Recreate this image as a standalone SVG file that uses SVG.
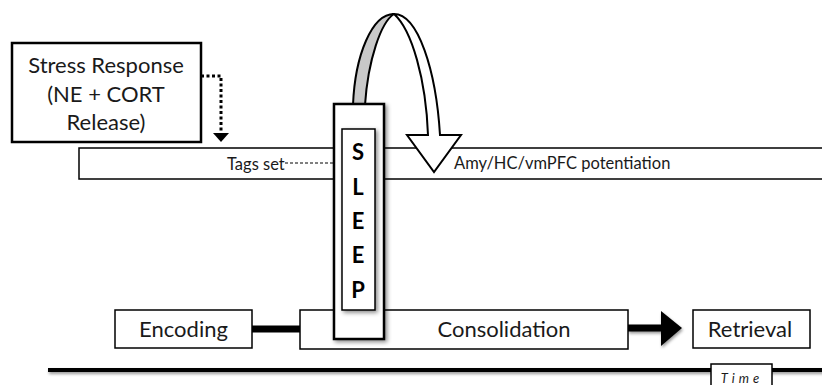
<svg xmlns="http://www.w3.org/2000/svg" width="822" height="385" viewBox="0 0 822 385">
<defs>
<style>
.box{fill:#fff;stroke:#000;stroke-width:1.5}
.bold{fill:#fff;stroke:#000;stroke-width:2.5}
.t{font-family:Lato,"Open Sans","Liberation Sans",sans-serif;fill:#1a1a1a}
.lbl{font-size:22px;text-anchor:middle}
.sm{font-size:16.5px}
.sl{font-family:Lato,"Open Sans","Liberation Sans",sans-serif;font-weight:bold;font-size:22px;text-anchor:middle;fill:#000}
</style>
<filter id="sh" x="-30%" y="-10%" width="160%" height="130%">
<feDropShadow dx="2" dy="2" stdDeviation="2" flood-color="#000" flood-opacity="0.45"/>
</filter>
<filter id="sh2" filterUnits="userSpaceOnUse" x="0" y="290" width="822" height="95">
<feDropShadow dx="1" dy="2" stdDeviation="1.5" flood-color="#000" flood-opacity="0.4"/>
</filter>
</defs>

<g id="tags-band">
<rect x="79" y="148" width="760" height="31" class="box"/>
<text x="227" y="170" class="t sm">Tags set</text>
<text x="454" y="169" class="t sm">Amy/HC/vmPFC potentiation</text>
</g>

<g id="time-axis">
<rect x="48" y="368" width="780" height="4" fill="#000" filter="url(#sh2)"/>
<rect x="711" y="364" width="61" height="30" fill="#fff" stroke="#000" stroke-width="1.5"/>
<text x="742" y="383" class="t" font-size="13" font-style="italic" letter-spacing="4" text-anchor="middle">Time</text>
</g>

<g id="connectors">
<polyline points="201,76 221,76 221,133" fill="none" stroke="#000" stroke-width="3" stroke-dasharray="3,2.5"/>
<polygon points="213,133 229,133 221,142" fill="#000"/>
<line x1="285" y1="163" x2="334" y2="163" stroke="#000" stroke-width="1" stroke-dasharray="3,2"/>
<line x1="252" y1="329" x2="301" y2="329" stroke="#000" stroke-width="7"/>
<g filter="url(#sh2)">
<line x1="628" y1="328" x2="662" y2="328" stroke="#000" stroke-width="7"/>
<polygon points="661,311 682,328 661,346" fill="#000"/>
</g>
</g>

<g id="stress-response">
<rect x="12" y="43" width="189" height="99" class="bold"/>
<text x="106" y="73" class="t lbl">Stress Response</text>
<text x="106" y="102" class="t lbl">(NE + CORT</text>
<text x="106" y="130" class="t lbl">Release)</text>
</g>

<g id="encoding">
<rect x="115" y="310" width="137" height="38" class="box"/>
<text x="183.5" y="337" class="t lbl">Encoding</text>
</g>

<g id="consolidation">
<rect x="300" y="310" width="328" height="39" class="box"/>
<text x="504" y="337" class="t lbl">Consolidation</text>
</g>

<g id="retrieval">
<rect x="693" y="310" width="117" height="38" class="box"/>
<text x="750" y="337" class="t lbl">Retrieval</text>
</g>

<g id="curved-arrow">
<path d="M353,105 C355,55 372,14 394,14 C381,22 368,60 365,105 Z" fill="#c8c8c8" stroke="#000" stroke-width="2" stroke-linejoin="round"/>
<path d="M394,14 C418,14 436,70 440,135 L461,135 L434,172 L407,135 L428,135 C426,80 412,30 394,14 Z" fill="#fff" stroke="#000" stroke-width="2" stroke-linejoin="miter"/>
</g>

<g id="sleep">
<rect x="334" y="104" width="50" height="235" class="bold" filter="url(#sh)"/>
<rect x="342" y="129" width="33" height="181" fill="#fff" stroke="#000" stroke-width="1.5" filter="url(#sh)"/>
<text x="358" y="160" class="sl">S</text>
<text x="358" y="195" class="sl">L</text>
<text x="358" y="229" class="sl">E</text>
<text x="358" y="263" class="sl">E</text>
<text x="358" y="298" class="sl">P</text>
</g>
</svg>
